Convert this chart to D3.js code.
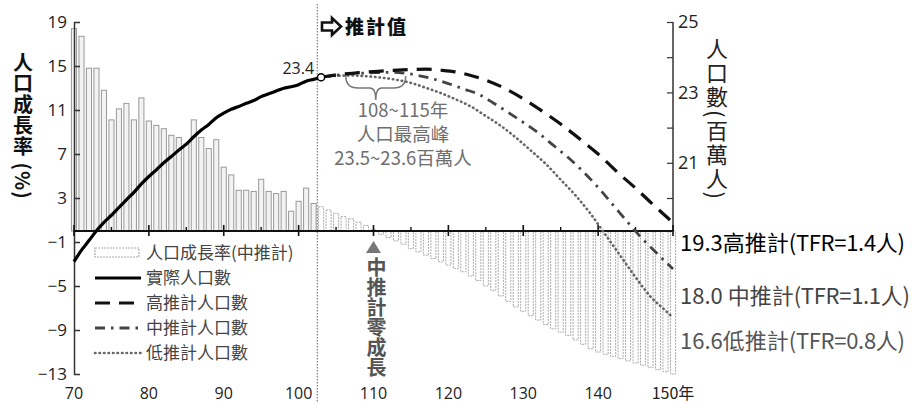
<!DOCTYPE html>
<html><head><meta charset="utf-8">
<script src="https://cdn.jsdelivr.net/npm/d3@7"></script>
<style>
body{margin:0;background:#fff;}
svg{display:block;}
text{font-family:"Noto Sans CJK TC","Noto Sans",sans-serif;}
</style></head><body>
<svg id="c" width="912" height="403"></svg>
<script>
// ---- data ----
const histYears = [70,71,72,73,74,75,76,77,78,79,80,81,82,83,84,85,86,87,88,89,90,91,92,93,94,95,96,97,98,99,100,101,102];
const histGrowth = [18.4,17.7,14.8,14.8,12.8,10.1,11.1,11.6,10.1,12.1,10.0,9.6,9.3,8.7,8.5,7.9,10.1,8.5,7.5,8.3,5.8,5.1,3.7,3.7,3.6,4.7,3.6,3.4,3.6,1.8,2.7,3.9,2.5];
const popYears = [70,71,72,73,74,75,76,77,78,79,80,81,82,83,84,85,86,87,88,89,90,91,92,93,94,95,96,97,98,99,100,101,102,103];
const popActual = [18.19,18.52,18.79,19.07,19.31,19.51,19.73,19.95,20.16,20.40,20.61,20.80,21.00,21.18,21.36,21.53,21.74,21.93,22.09,22.28,22.41,22.52,22.60,22.69,22.77,22.88,22.96,23.04,23.12,23.16,23.22,23.32,23.37,23.43];
const projYears = [103,104,105,106,107,108,109,110,111,112,113,114,115,116,117,118,119,120,121,122,123,124,125,126,127,128,129,130,131,132,133,134,135,136,137,138,139,140,141,142,143,144,145,146,147,148,149,150];
const projGrowth = [2.2,1.9,1.6,1.3,1.1,0.8,0.5,0.1,-0.3,-0.6,-0.9,-1.2,-1.6,-1.9,-2.2,-2.5,-2.8,-3.1,-3.4,-3.7,-4.1,-4.5,-5.0,-5.4,-5.9,-6.4,-6.9,-7.3,-7.7,-8.1,-8.5,-8.9,-9.2,-9.5,-9.9,-10.3,-10.7,-11.0,-11.2,-11.4,-11.6,-11.8,-12.0,-12.2,-12.4,-12.6,-12.8,-13.0];
const highYears = [103,105,108,110,112,115,117,119,121,123,125,127,130,133,135,138,140,143,145,147,150];
const highPop = [23.43,23.50,23.56,23.59,23.62,23.65,23.66,23.63,23.58,23.48,23.35,23.17,22.82,22.4,22.1,21.6,21.25,20.65,20.28,19.88,19.3];
const medYears = [103,105,108,110,112,114,116,118,120,122,124,126,128,130,132,134,136,138,140,142,144,146,148,150];
const medPop = [23.43,23.49,23.54,23.56,23.57,23.55,23.48,23.38,23.25,23.1,22.95,22.7,22.43,22.15,21.85,21.5,21.15,20.75,20.3,19.8,19.3,18.82,18.4,17.98];
const lowYears = [103,105,107,109,111,113,115,117,119,121,123,125,127,129,131,133,135,137,139,141,143,145,147,149,150];
const lowPop = [23.43,23.47,23.48,23.46,23.42,23.36,23.27,23.13,22.98,22.8,22.6,22.33,22.05,21.72,21.35,20.97,20.52,20.07,19.55,18.95,18.35,17.75,17.2,16.8,16.6];
const leftTicks = [19,15,11,7,3,-1,-5,-9,-13];
const rightTicks = [25,24,23,22,21,20];
const rightLabelled = [25,23,21];
const xMajor = [70,80,90,100,110,120,130,140,150];
const xMinor = [75,85,95,105,115,125,135,145];
const legendItems = ["人口成長率(中推計)","實際人口數","高推計人口數","中推計人口數","低推計人口數"];
const annotLines = ["108~115年","人口最高峰","23.5~23.6百萬人"];
const endLabels = [
  {v:"19.3", name:"高推計", tfr:"(TFR=1.4人)"},
  {v:"18.0 ", name:"中推計", tfr:"(TFR=1.1人)"},
  {v:"16.6", name:"低推計", tfr:"(TFR=0.8人)"}
];

// ---- scales ----
const svg = d3.select("#c");
const x = d3.scaleLinear().domain([70,150]).range([74,673]);
const yL = d3.scaleLinear().domain([-13,19]).range([374,22]);
const yR = d3.scaleLinear().domain([15,25]).range([374,22]);
const step = x(71)-x(70);
const bw = step*0.68;
const y0 = yL(0);

// ---- bars ----
svg.append("g").selectAll("rect").data(histYears).join("rect")
  .attr("x", d=>x(d)-bw/2).attr("width", bw)
  .attr("y",(d,i)=>yL(Math.max(0,histGrowth[i])))
  .attr("height",(d,i)=>Math.abs(yL(histGrowth[i])-y0))
  .attr("fill","#f3f3f3").attr("stroke","#999").attr("stroke-width",1);

svg.append("g").selectAll("rect").data(projYears).join("rect")
  .attr("x", d=>x(d)-bw/2).attr("width", bw)
  .attr("y",(d,i)=>yL(Math.max(0,projGrowth[i])))
  .attr("height",(d,i)=>Math.abs(yL(projGrowth[i])-y0))
  .attr("fill","#fff").attr("stroke","#aaa").attr("stroke-width",1)
  .attr("stroke-dasharray","2,1");

// ---- projection divider ----
svg.append("line").attr("x1",x(102.5)).attr("x2",x(102.5)).attr("y1",4).attr("y2",403)
  .attr("stroke","#888").attr("stroke-width",1.3).attr("stroke-dasharray","1.5,1.5");

// ---- axes ----
const gL = svg.append("g").attr("transform",`translate(${x(70)},0)`)
  .call(d3.axisLeft(yL).tickValues(leftTicks).tickSizeInner(-6).tickSizeOuter(0).tickPadding(7));
gL.select(".domain").attr("stroke","#333").attr("stroke-width",1.5);
gL.selectAll(".tick line").attr("stroke","#333").attr("stroke-width",1.5);
gL.selectAll(".tick text").attr("font-size",17).attr("fill","#222")
  .style("font-family","'Open Sans','Noto Sans',sans-serif");

const gR = svg.append("g").attr("transform",`translate(${x(150)},0)`)
  .call(d3.axisRight(yR).tickValues(rightTicks).tickSizeInner(-6).tickSizeOuter(0).tickPadding(5)
    .tickFormat(d=>rightLabelled.includes(d)?d:""));
gR.select(".domain").remove();
gR.append("line").attr("x1",0).attr("x2",0).attr("y1",yR(25)).attr("y2",y0)
  .attr("stroke","#333").attr("stroke-width",1.5);
gR.selectAll(".tick line").attr("stroke","#333").attr("stroke-width",1.2);
gR.selectAll(".tick text").attr("font-size",18).attr("fill","#222")
  .style("font-family","'Open Sans','Noto Sans',sans-serif");

// x axis line at zero
svg.append("line").attr("x1",x(70)).attr("x2",x(150)).attr("y1",y0).attr("y2",y0)
  .attr("stroke","#111").attr("stroke-width",2.2);
svg.append("g").selectAll("line").data(xMajor).join("line")
  .attr("x1",d=>x(d)).attr("x2",d=>x(d)).attr("y1",y0-6).attr("y2",y0+5)
  .attr("stroke","#111").attr("stroke-width",1.6);
svg.append("g").selectAll("line").data(xMinor).join("line")
  .attr("x1",d=>x(d)).attr("x2",d=>x(d)).attr("y1",y0-4).attr("y2",y0)
  .attr("stroke","#111").attr("stroke-width",1.4);
svg.append("g").selectAll("text").data(xMajor).join("text")
  .attr("x",d=>x(d)).attr("y",399).attr("text-anchor","middle")
  .attr("font-size",16).attr("fill","#222")
  .style("font-family",d=>d===150?"'Noto Sans CJK TC',sans-serif":"'Open Sans','Noto Sans',sans-serif")
  .text(d=>d===150?"150年":d);

// ---- lines ----
const line = d3.line().x(d=>x(d[0])).y(d=>yR(d[1])).curve(d3.curveMonotoneX);
const zip = (a,b)=>a.map((v,i)=>[v,b[i]]);
svg.append("path").datum(zip(lowYears,lowPop)).attr("d",line).attr("fill","none")
  .attr("stroke","#666").attr("stroke-width",2.6).attr("stroke-linecap","round").attr("stroke-dasharray","0.5,4");
svg.append("path").datum(zip(medYears,medPop)).attr("d",line).attr("fill","none")
  .attr("stroke","#444").attr("stroke-width",2.8).attr("stroke-dasharray","10,6,2.5,6");
svg.append("path").datum(zip(highYears,highPop)).attr("d",line).attr("fill","none")
  .attr("stroke","#111").attr("stroke-width",3.2).attr("stroke-dasharray","15,9");
svg.append("path").datum(zip(popYears,popActual)).attr("d",line).attr("fill","none")
  .attr("stroke","#000").attr("stroke-width",3.2);
const lastYear = popYears[popYears.length-1], lastPop = popActual[popActual.length-1];
svg.append("circle").attr("cx",x(lastYear)).attr("cy",yR(lastPop)).attr("r",3.6)
  .attr("fill","#fff").attr("stroke","#000").attr("stroke-width",1.5);
svg.append("text").attr("x",x(lastYear)-7).attr("y",yR(lastPop)-3).attr("text-anchor","end")
  .attr("font-size",16).attr("fill","#222").style("font-family","'Open Sans','Noto Sans',sans-serif")
  .text(lastPop.toFixed(1));

// ---- axis titles ----
svg.append("text").attr("x",23).attr("y",52)
  .style("writing-mode","vertical-rl").attr("font-size",20).attr("font-weight","bold")
  .attr("fill","#111").attr("letter-spacing",1).text("人口成長率 (%)");
svg.append("text").attr("x",717).attr("y",38)
  .style("writing-mode","vertical-rl").attr("font-size",22)
  .attr("fill","#222").attr("letter-spacing",2).text("人口數(百萬人)");

// ---- projection header ----
svg.append("path")
  .attr("d","M322,22.5 L332,22.5 L332,18 L341,26.5 L332,35 L332,30.5 L322,30.5 Z")
  .attr("fill","#fff").attr("stroke","#111").attr("stroke-width",2.6).attr("stroke-linejoin","miter");
svg.append("text").attr("x",345).attr("y",34).attr("font-size",19).attr("font-weight","900")
  .attr("letter-spacing",2).attr("fill","#111").text("推計值");

// ---- peak annotation ----
const bx1 = x(106.3), bx2 = x(114.3), bm = (bx1+bx2)/2;
svg.append("path")
  .attr("d",`M${bx1},76 Q${bx1},88 ${bx1+12},88 L${bm-6},88 Q${bm},88 ${bm},100 Q${bm},88 ${bm+6},88 L${bx2-12},88 Q${bx2},88 ${bx2},76`)
  .attr("fill","none").attr("stroke","#777").attr("stroke-width",1.5);
svg.append("g").selectAll("text").data(annotLines).join("text")
  .attr("x",403).attr("y",(d,i)=>117+i*24).attr("text-anchor","middle")
  .attr("font-size",18.5).attr("fill","#6e6e6e").text(d=>d);

// ---- zero growth marker ----
const zx = x(110);
svg.append("path").attr("d",`M${zx},241 L${zx+7.5},253 L${zx-7.5},253 Z`).attr("fill","#777");
svg.append("text").attr("x",zx+3).attr("y",257)
  .style("writing-mode","vertical-rl").attr("font-size",20).attr("font-weight","bold")
  .attr("fill","#555").text("中推計零成長");

// ---- legend ----
const lg = svg.append("g");
const lx = 95, lyy = i=>253+i*25;
lg.append("rect").attr("x",lx).attr("y",lyy(0)-5).attr("width",44).attr("height",9)
  .attr("fill","#fff").attr("stroke","#aaa").attr("stroke-width",1.2).attr("stroke-dasharray","2,1");
const lstyles = [null,{c:"#000",w:3.2,d:null},{c:"#111",w:3.2,d:"15,9"},{c:"#444",w:2.8,d:"10,6,2.5,6"},{c:"#666",w:2.6,d:"0.5,4",cap:"round"}];
lstyles.forEach((s,i)=>{
  if(!s) return;
  lg.append("line").attr("x1",lx).attr("x2",lx+46).attr("y1",lyy(i)).attr("y2",lyy(i))
    .attr("stroke",s.c).attr("stroke-width",s.w).attr("stroke-dasharray",s.d)
    .attr("stroke-linecap",s.cap||"butt");
});
lg.selectAll("text").data(legendItems).join("text")
  .attr("x",146).attr("y",(d,i)=>lyy(i)+6).attr("font-size",17).attr("fill","#444").text(d=>d);

// ---- end labels ----
const endCols = ["#000","#444","#555"];
const endY = [251,304,349];
endLabels.forEach((e,i)=>{
  const t = svg.append("text").attr("x",680).attr("y",endY[i]).attr("font-size",22).attr("fill",endCols[i]);
  t.append("tspan").text(e.v);
  t.append("tspan").text(e.name);
  t.append("tspan").attr("letter-spacing",-0.3).text(e.tfr);
});
</script>
</body></html>
